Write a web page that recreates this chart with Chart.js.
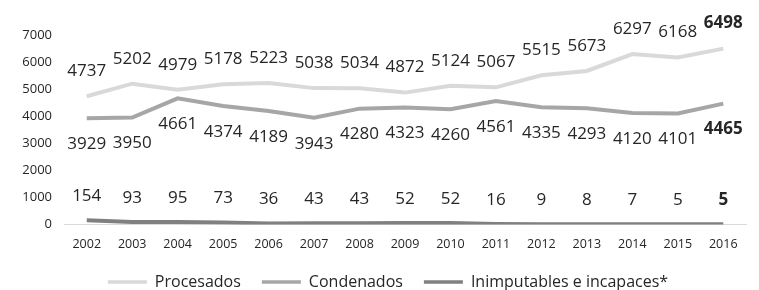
<!DOCTYPE html>
<html><head><meta charset="utf-8">
<script src="https://cdn.jsdelivr.net/npm/chart.js@4/dist/chart.umd.min.js"></script>
<style>html,body{margin:0;padding:0;background:#fff}#wrap{width:759px;height:290px}</style>
</head><body><div id="wrap"><canvas id="c" width="759" height="290"></canvas></div>
<script>
const years = ["2002","2003","2004","2005","2006","2007","2008","2009","2010","2011","2012","2013","2014","2015","2016"];
const procesados = [4737,5202,4979,5178,5223,5038,5034,4872,5124,5067,5515,5673,6297,6168,6498];
const condenados = [3929,3950,4661,4374,4189,3943,4280,4323,4260,4561,4335,4293,4120,4101,4465];
const inimputables = [154,93,95,73,36,43,43,52,52,16,9,8,7,5,5];
const yTicks = [0,1000,2000,3000,4000,5000,6000,7000];

const FONT = "'Open Sans', sans-serif";
const labelOffsets = [-25, 26, -24];

const dataLabels = {
  id: 'dataLabels',
  afterDatasetsDraw(chart) {
    const ctx = chart.ctx;
    const xs = chart.scales.x, ys = chart.scales.y;
    chart.data.datasets.forEach((ds, di) => {
      ds.data.forEach((v, i) => {
        const last = i === ds.data.length - 1;
        ctx.save();
        ctx.font = (last ? 'bold ' : '') + '17px ' + FONT;
        ctx.fillStyle = '#262626';
        ctx.textAlign = 'center';
        ctx.textBaseline = 'middle';
        ctx.fillText(String(v), xs.getPixelForValue(i), ys.getPixelForValue(v) + labelOffsets[di]);
        ctx.restore();
      });
    });
  }
};

const legendShift = {
  id: 'legendShift',
  afterLayout(chart) {
    if (chart.legend) { chart.legend.left += 30; }
  }
};

new Chart(document.getElementById('c'), {
  type: 'line',
  data: {
    labels: years,
    datasets: [
      {label: 'Procesados', data: procesados, borderColor: '#d9d9d9', backgroundColor: '#d9d9d9', borderWidth: 4, pointRadius: 0, tension: 0},
      {label: 'Condenados', data: condenados, borderColor: '#a6a6a6', backgroundColor: '#a6a6a6', borderWidth: 4, pointRadius: 0, tension: 0},
      {label: 'Inimputables e incapaces*', data: inimputables, borderColor: '#808080', backgroundColor: '#808080', borderWidth: 4, pointRadius: 0, tension: 0}
    ]
  },
  options: {
    responsive: false,
    animation: false,
    layout: {padding: {top: 35, right: 13, left: 0, bottom: -10}},
    plugins: {
      tooltip: {enabled: false},
      legend: {
        position: 'bottom',
        labels: {
          boxWidth: 39, boxHeight: 3.5, padding: 21,
          color: '#262626',
          font: {family: FONT, size: 16},
          generateLabels(chart) {
            return chart.data.datasets.map((d, i) => ({
              text: d.label, fillStyle: d.borderColor, strokeStyle: d.borderColor, lineWidth: 0, datasetIndex: i, fontColor: '#262626'
            }));
          }
        }
      }
    },
    scales: {
      x: {
        offset: true,
        afterFit(s) { s.height -= 10.5; },
        grid: {display: false, drawTicks: false},
        border: {display: true, color: '#d9d9d9', width: 1},
        ticks: {color: '#262626', font: {family: FONT, size: 12.5}, padding: 12, maxRotation: 0, autoSkip: false}
      },
      y: {
        min: 0, max: 7000,
        afterBuildTicks(s) { s.ticks = yTicks.map(v => ({value: v})); },
        afterFit(s) { s.width = 64; },
        grid: {display: false, drawTicks: false},
        border: {display: false},
        ticks: {color: '#262626', font: {family: FONT, size: 13}, padding: 12, callback: v => String(v)}
      }
    }
  },
  plugins: [dataLabels, legendShift]
});
</script></body></html>
